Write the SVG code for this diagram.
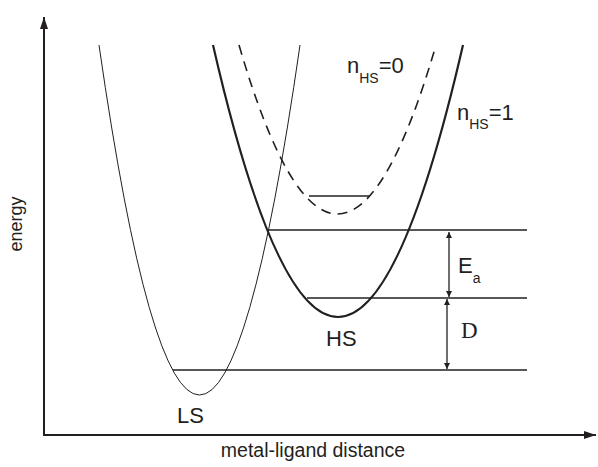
<svg xmlns="http://www.w3.org/2000/svg" width="598" height="467" viewBox="0 0 598 467">
<defs>
<style>
.ax{stroke:#231f20;stroke-width:2;fill:none}
.lvl{stroke:#231f20;stroke-width:1.3;fill:none}
.thin{stroke:#231f20;stroke-width:1;fill:none}
.thick{stroke:#231f20;stroke-width:2.2;fill:none}
.dash{stroke:#231f20;stroke-width:1.6;fill:none;stroke-dasharray:10 7}
.arr{stroke:#231f20;stroke-width:1.3;fill:none}
text{font-family:"Liberation Sans",Arial,sans-serif;fill:#231f20}
.big{font-size:22px}
.sub{font-size:14px}
.ser{font-family:"Liberation Serif","Times New Roman",serif;font-size:23px}
</style>
<marker id="ah" viewBox="0 0 10 10" refX="10" refY="5" markerWidth="6" markerHeight="6" orient="auto-start-reverse" markerUnits="userSpaceOnUse">
<path d="M0,0 L10,5 L0,10 Z" fill="#231f20"/>
</marker>
<marker id="ahb" viewBox="0 0 12 8" refX="12" refY="4" markerWidth="12" markerHeight="8" orient="auto-start-reverse" markerUnits="userSpaceOnUse">
<path d="M0,0 L12,4 L0,8 Z" fill="#231f20"/>
</marker>
</defs>
<g id="axes">
<line class="ax" x1="44" y1="435" x2="44" y2="17" marker-end="url(#ahb)"/>
<line class="ax" x1="43" y1="435" x2="596" y2="435" marker-end="url(#ahb)"/>
<text x="313" y="457" text-anchor="middle" style="font-size:19.5px">metal-ligand distance</text>
<text transform="translate(22,224) rotate(-90)" text-anchor="middle" style="font-size:18px">energy</text>
</g>
<g id="LS">
<path class="thin" d="M99,45 Q199.5,745 300,45"/>
<text class="big" x="177" y="423">LS</text>
</g>
<g id="HS">
<path class="thick" d="M213,45 Q338,589 463,45"/>
<text class="big" x="326" y="346">HS</text>
</g>
<g id="nHS0">
<path class="dash" d="M239,45 Q337.5,383 436,45"/>
<text x="347" y="73"><tspan class="big">n</tspan><tspan class="sub" dy="10">HS</tspan><tspan class="big" dy="-10">=0</tspan></text>
</g>
<g id="nHS1">
<text x="457" y="120"><tspan class="big">n</tspan><tspan class="sub" dy="9">HS</tspan><tspan class="big" dy="-9">=1</tspan></text>
</g>
<g id="connectors">
<line class="lvl" x1="309" y1="196" x2="369" y2="196"/>
<line class="lvl" x1="268" y1="230" x2="527" y2="230"/>
<line class="lvl" x1="307" y1="298" x2="527" y2="298"/>
<line class="lvl" x1="173" y1="370" x2="527" y2="370"/>
<line class="arr" x1="449" y1="232" x2="449" y2="297" marker-start="url(#ah)" marker-end="url(#ah)"/>
<line class="arr" x1="447" y1="299" x2="447" y2="369" marker-start="url(#ah)" marker-end="url(#ah)"/>
</g>
<g id="Ea">
<text x="458" y="273"><tspan class="big">E</tspan><tspan class="sub" dy="10">a</tspan></text>
</g>
<g id="D">
<text class="ser" x="461" y="338">D</text>
</g>
</svg>
